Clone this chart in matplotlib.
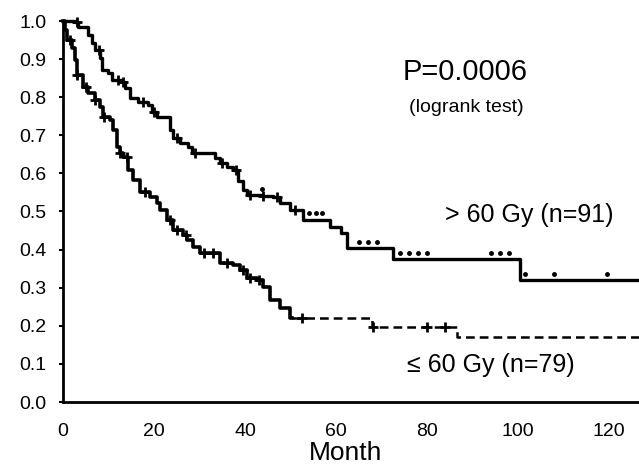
import matplotlib
matplotlib.use('Agg')
import matplotlib.pyplot as plt
import numpy as np

plt.rcParams['font.family'] = ['Liberation Sans', 'DejaVu Sans']

# > 60 Gy (n=91)
t_hi = [0, 2.6, 3.3, 5.5, 6.4, 7, 8.1, 8.6, 9.9, 10.8, 13, 13.6, 14.7, 16.5, 18.7,
        19.6, 20.7, 23.5, 24.2, 25.7, 27.5, 28.3, 33.5, 34.5, 36, 37.4, 38.5, 39.6,
        40.4, 44, 46.2, 47.7, 50, 52.7, 58.7, 61, 62.4, 72.5, 100.5]
s_hi = [1.0, 0.997, 0.984, 0.963, 0.942, 0.924, 0.903, 0.871, 0.864, 0.845, 0.84,
        0.824, 0.797, 0.787, 0.78, 0.761, 0.748, 0.714, 0.693, 0.68, 0.67, 0.653,
        0.64, 0.627, 0.618, 0.609, 0.58, 0.556, 0.543, 0.54, 0.538, 0.522, 0.504,
        0.478, 0.46, 0.443, 0.404, 0.375, 0.32]
cens_hi = [3, 8, 12, 13.2, 17.5, 20, 25, 29, 35, 38, 41, 44, 47, 51]
dots_hi = [43.7, 54, 55.5, 57, 65, 67, 69, 74, 76, 78, 80, 94, 96, 98,
           101.5, 108, 119.5]

# <= 60 Gy (n=79)
t_lo = [0, 0.4, 0.9, 2, 2.6, 3, 4.4, 5.5, 7, 8.1, 8.8, 10.3, 11, 11.9, 12.5, 13.2,
        14.3, 15.4, 16.9, 19.1, 20.7, 21.3, 22.9, 24.2, 26.4, 27.3, 28.6, 30.1,
        34.5, 37.4, 38.9, 40.4, 42.6, 44, 45.5, 47.7, 49.9, 68, 86.5]
s_lo = [1.0, 0.976, 0.95, 0.93, 0.898, 0.858, 0.827, 0.811, 0.793, 0.774, 0.748,
        0.74, 0.714, 0.67, 0.653, 0.643, 0.609, 0.583, 0.551, 0.538, 0.522, 0.504,
        0.478, 0.451, 0.438, 0.425, 0.407, 0.391, 0.365, 0.36, 0.346, 0.325, 0.32,
        0.302, 0.268, 0.247, 0.22, 0.197, 0.171]
cens_lo = [1.5, 3, 5, 7, 9, 12.5, 14, 18, 23.5, 25, 27, 31, 33, 36, 39.5, 41, 43,
           52.5, 68.2, 80, 84]

x_end = 126.6
xticks = [0, 20, 40, 60, 80, 100, 120]
yticks = [0.0, 0.1, 0.2, 0.3, 0.4, 0.5, 0.6, 0.7, 0.8, 0.9, 1.0]


def surv_at(t, times, surv):
    i = np.searchsorted(times, t, side='right') - 1
    return surv[i]


fig = plt.figure(figsize=(6.39, 4.65), dpi=100)
ax = fig.add_axes([63/639, 63/465, 1 - 63/639, 381/465])

th = t_hi + [x_end]
sh = s_hi + [s_hi[-1]]
ax.step(th, sh, where='post', color='black', lw=2.4, clip_on=False)
ax.plot(cens_hi, [surv_at(t, t_hi, s_hi) for t in cens_hi], '+', color='black',
        ms=7, mew=2, clip_on=False)
ax.plot(dots_hi, [surv_at(t, t_hi, s_hi) + 0.017 for t in dots_hi], '.', color='black',
        ms=5)

# solid part then dashed part for the lower group
n_solid = t_lo.index(49.9) + 1
ts = t_lo[:n_solid] + [50.3]
ss = s_lo[:n_solid] + [s_lo[n_solid - 1]]
ax.step(ts, ss, where='post', color='black', lw=2.6, clip_on=False)
td = [50.3] + t_lo[n_solid:] + [x_end]
sd = [s_lo[n_solid - 1]] + s_lo[n_solid:] + [s_lo[-1]]
ax.step(td, sd, where='post', color='black', lw=1.8, ls=(0, (3.5, 2)))
ax.plot(cens_lo, [surv_at(t, t_lo, s_lo) for t in cens_lo], '+', color='black',
        ms=7, mew=2, clip_on=False)

ax.set_xlim(0, x_end)
ax.set_ylim(0, 1.0)
ax.set_xticks(xticks)
ax.set_yticks(yticks)
ax.set_yticklabels(['%.1f' % v for v in yticks])
ax.spines['top'].set_visible(False)
ax.spines['right'].set_visible(False)
ax.spines['left'].set_linewidth(2)
ax.spines['bottom'].set_linewidth(2)
ax.tick_params(axis='y', length=3, width=1.5, labelsize=14, pad=9)
ax.tick_params(axis='x', length=0, labelsize=14, pad=15)
ax.set_xlabel('Month', fontsize=19)
ax.xaxis.set_label_coords(0.49, -0.134)
ax.xaxis.label.set_va('center')

ax.text(0.698, 0.866, 'P=0.0006', transform=ax.transAxes, fontsize=21, ha='center',
        va='center')
ax.text(0.70, 0.774, '(logrank test)', transform=ax.transAxes, fontsize=14,
        ha='center', va='center')
ax.text(0.663, 0.491, '> 60 Gy (n=91)', transform=ax.transAxes, fontsize=18,
        ha='left', va='center')
ax.text(0.597, 0.097, '\u2264 60 Gy (n=79)', transform=ax.transAxes, fontsize=18,
        ha='left', va='center')

fig.savefig('out.png', dpi=100)
